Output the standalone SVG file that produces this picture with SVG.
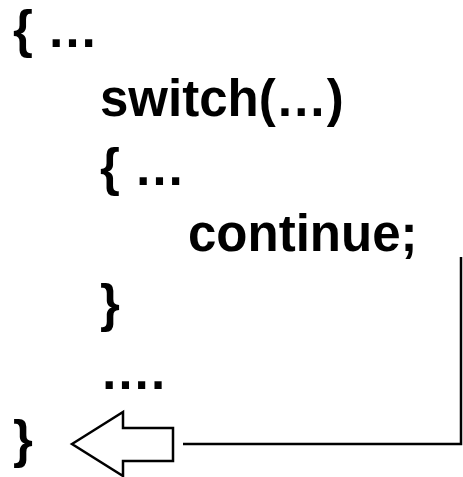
<svg xmlns="http://www.w3.org/2000/svg" width="463" height="477" viewBox="0 0 463 477">
<style>
text{font-family:"Liberation Sans",Arial,sans-serif;font-weight:bold;font-size:51px;fill:#000}
.ln{stroke:#000;stroke-width:2.5;fill:none}
</style>
<rect width="463" height="477" fill="#fff"/>
<g id="code">
<text x="13" y="47">{ …</text>
<text x="100" y="116">switch(…)</text>
<text x="100" y="185">{ …</text>
<text x="188" y="251">continue;</text>
<text x="100" y="321">}</text>
<text x="100" y="389">….</text>
<text x="13" y="457">}</text>
</g>
<g id="arrow">
<polygon class="ln" points="72,444 123,412 123,428 173,428 173,461 123,461 123,476" stroke-width="2"/>
</g>
<g id="connectors">
<polyline class="ln" points="183,444 461,444 461,257" stroke-width="2.5"/>
</g>
</svg>
